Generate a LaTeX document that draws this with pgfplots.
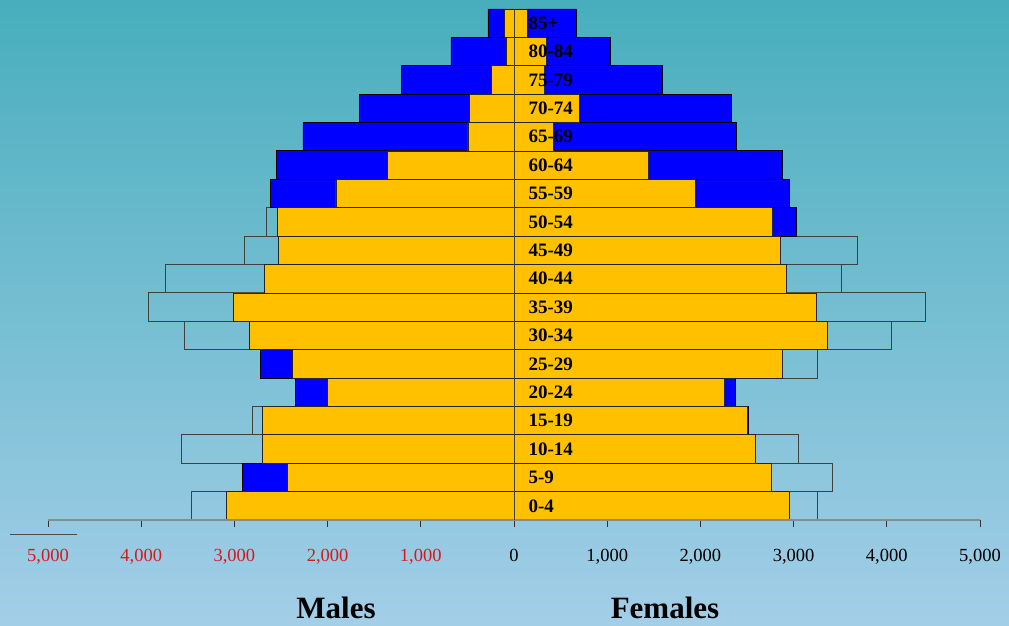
\documentclass[border=0pt]{standalone}
\usepackage{pgfplots}
\pgfplotsset{compat=1.18}
\usepackage{pgfplotstable}
\usepackage{fontspec}
\setmainfont{Liberation Serif}
\definecolor{bgtop}{RGB}{72,174,188}
\definecolor{bgbot}{RGB}{163,206,232}
\definecolor{barorange}{RGB}{255,192,0}
\definecolor{barblue}{RGB}{0,0,255}
\definecolor{ticklab}{RGB}{215,25,30}
\definecolor{axgray}{RGB}{135,140,145}

% y = age group index (0 = 0-4, ..., 17 = 85+)
\pgfplotstableread{
x y
-3083 0
-2432 1
-2700 2
-2700 3
-2006 4
-2378 5
-2836 6
-3012 7
-2679 8
-2529 9
-2540 10
-1910 11
-1359 12
-494 13
-480 14
-243 15
-82 16
-100 17
}\orangemale
\pgfplotstableread{
x y
2954 0
2765 1
2593 2
2504 3
2253 4
2879 5
3366 6
3244 7
2926 8
2857 9
2775 10
1949 11
1441 12
422 13
697 14
322 15
343 16
140 17
}\orangefemale
\pgfplotstableread{
x y
-2915 1
-2343 4
-2725 5
-2615 11
-2546 12
-2264 13
-1663 14
-1212 15
-676 16
-279 17
}\bluemale
\pgfplotstableread{
x y
2520 3
2378 4
3026 10
2954 11
2883 12
2389 13
2336 14
1591 15
1030 16
673 17
}\bluefemale
\pgfplotstableread{
x y
-3466 0
-3570 2
-2811 3
-3541 6
-3927 7
-3745 8
-2890 9
-2658 10
}\outlinemale
\pgfplotstableread{
x y
3255 0
3412 1
3054 2
3255 5
4048 6
4413 7
3509 8
3684 9
}\outlinefemale

\begin{document}
\begin{tikzpicture}
\useasboundingbox (0,0) rectangle (1009pt,625pt);
\shade[top color=bgtop, bottom color=bgbot] (0,0) rectangle (1009pt,625pt);
% small artefact lines at lower left
\draw[white, line width=1pt] (48pt,105.5pt) -- (77pt,105.5pt);
\draw[black!70, line width=1pt] (10pt,90.5pt) -- (77pt,90.5pt);
\begin{axis}[
  at={(48pt,105pt)}, anchor=south west,
  scale only axis, width=932pt, height=511pt,
  xmin=-5000, xmax=5000, ymin=-0.5, ymax=17.5,
  axis x line*=bottom, axis y line=none,
  x axis line style={draw=axgray, line width=1.6pt, -},
  axis on top,
  xtick={-5000,-4000,-3000,-2000,-1000,0,1000,2000,3000,4000,5000},
  xticklabels={\textcolor{ticklab}{5,000},\textcolor{ticklab}{4,000},\textcolor{ticklab}{3,000},\textcolor{ticklab}{2,000},\textcolor{ticklab}{1,000},0,{1,000},{2,000},{3,000},{4,000},{5,000}},
  tick align=outside, major tick length=7pt,
  tick style={black!80, line width=1pt},
  xticklabel style={font=\fontsize{18.5}{20}\selectfont, yshift=-19pt},
  extra x ticks={0}, extra x tick labels={},
  extra x tick style={grid=major, major grid style={black!75, line width=1pt}, major tick length=0pt},
  ytick=\empty,
  clip=false,
]
\addplot[xbar, bar width=1, bar shift=0pt, fill=none, draw=black!75, line width=0.8pt] table[x=x,y=y] {\outlinemale};
\addplot[xbar, bar width=1, bar shift=0pt, fill=none, draw=black!75, line width=0.8pt] table[x=x,y=y] {\outlinefemale};
\addplot[xbar, bar width=1, bar shift=0pt, fill=barblue, draw=black, line width=0.9pt] table[x=x,y=y] {\bluemale};
\addplot[xbar, bar width=1, bar shift=0pt, fill=barblue, draw=black, line width=0.9pt] table[x=x,y=y] {\bluefemale};
\addplot[xbar, bar width=1, bar shift=0pt, fill=barorange, draw=black!85, line width=0.7pt] table[x=x,y=y] {\orangemale};
\addplot[xbar, bar width=1, bar shift=0pt, fill=barorange, draw=black!85, line width=0.7pt] table[x=x,y=y] {\orangefemale};
\tikzset{agelab/.style={anchor=west, font=\fontsize{19}{20}\selectfont\bfseries, inner sep=0pt}}
\node[agelab] at (axis cs:155,0) {0-4};
\node[agelab] at (axis cs:155,1) {5-9};
\node[agelab] at (axis cs:155,2) {10-14};
\node[agelab] at (axis cs:155,3) {15-19};
\node[agelab] at (axis cs:155,4) {20-24};
\node[agelab] at (axis cs:155,5) {25-29};
\node[agelab] at (axis cs:155,6) {30-34};
\node[agelab] at (axis cs:155,7) {35-39};
\node[agelab] at (axis cs:155,8) {40-44};
\node[agelab] at (axis cs:155,9) {45-49};
\node[agelab] at (axis cs:155,10) {50-54};
\node[agelab] at (axis cs:155,11) {55-59};
\node[agelab] at (axis cs:155,12) {60-64};
\node[agelab] at (axis cs:155,13) {65-69};
\node[agelab] at (axis cs:155,14) {70-74};
\node[agelab] at (axis cs:155,15) {75-79};
\node[agelab] at (axis cs:155,16) {80-84};
\node[agelab] at (axis cs:155,17) {85+};
\end{axis}
\node[font=\fontsize{31}{32}\selectfont\bfseries] at (336pt,17pt) {Males};
\node[font=\fontsize{31}{32}\selectfont\bfseries] at (665pt,17pt) {Females};
\end{tikzpicture}
\end{document}
